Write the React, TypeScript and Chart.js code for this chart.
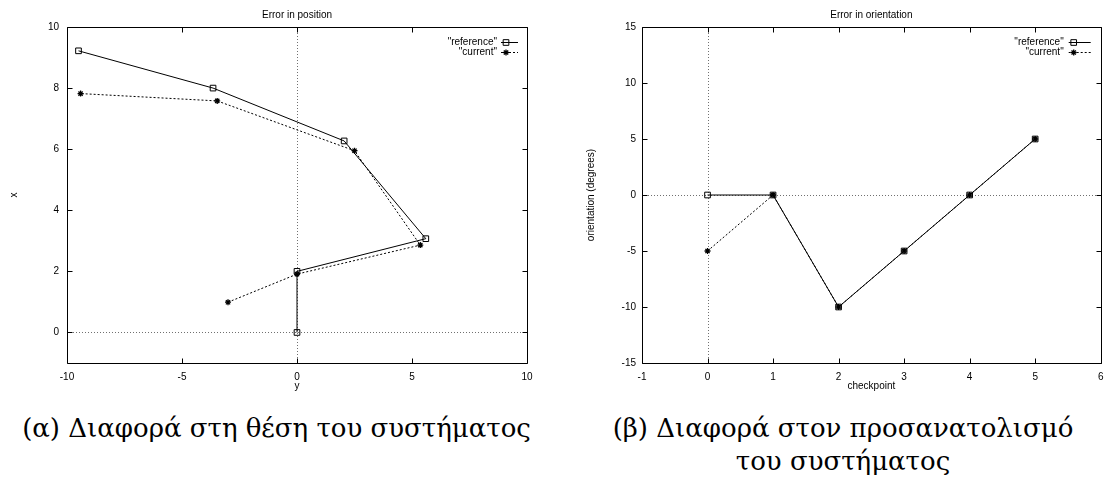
import React, { useEffect, useRef } from "react";
import { Chart, registerables } from "chart.js";

Chart.register(...registerables);

// ---------- data ----------
const seriesLabels = ['"reference"', '"current"'];

const positionTitle = "Error in position";
const positionXTitle = "y";
const positionYTitle = "x";
// horizontal axis = y, vertical axis = x
const refY = [0, 0, 5.6, 2.05, -3.65, -9.5];
const refX = [0, 2, 3.07, 6.27, 8.0, 9.22];
const curY = [-3.0, 0, 5.36, 2.5, -3.47, -9.41];
const curX = [0.99, 1.91, 2.86, 5.95, 7.58, 7.82];
const posXTicks = [-10, -5, 0, 5, 10];
const posYTicks = [0, 2, 4, 6, 8, 10];

const orientationTitle = "Error in orientation";
const orientationXTitle = "checkpoint";
const orientationYTitle = "orientation (degrees)";
const checkpoints = [0, 1, 2, 3, 4, 5];
const refOrientation = [0, 0, -10, -5, 0, 5];
const curOrientation = [-5, 0, -10, -5, 0, 5];
const oriXTicks = [-1, 0, 1, 2, 3, 4, 5, 6];
const oriYTicks = [-15, -10, -5, 0, 5, 10, 15];

const captionA = "(α) Διαφορά στη θέση του συστήματος";
const captionB1 = "(β) Διαφορά στον προσανατολισμό";
const captionB2 = "του συστήματος";

// ---------- helpers ----------
const FONT = "'Liberation Sans', Arial, Helvetica, sans-serif";

function drawMarker(ctx: CanvasRenderingContext2D, style: string, x: number, y: number, r: number) {
  ctx.save();
  ctx.setLineDash([]);
  ctx.strokeStyle = "#000";
  ctx.lineWidth = style === "rect" ? 1 : 1.3;
  ctx.beginPath();
  if (style === "rect") {
    const s = Math.SQRT1_2 * r;
    ctx.rect(x - s, y - s, 2 * s, 2 * s);
  } else {
    const d = r * Math.SQRT1_2;
    ctx.moveTo(x - r, y);
    ctx.lineTo(x + r, y);
    ctx.moveTo(x, y - r);
    ctx.lineTo(x, y + r);
    ctx.moveTo(x - d, y - d);
    ctx.lineTo(x + d, y + d);
    ctx.moveTo(x - d, y + d);
    ctx.lineTo(x + d, y - d);
  }
  ctx.stroke();
  ctx.restore();
}

const framePlugin = {
  id: "gnuframe",
  beforeDatasetsDraw(chart: any) {
    const { ctx, chartArea: a, scales } = chart;
    const x0 = Math.round(scales.x.getPixelForValue(0)) + 0.5;
    const y0 = Math.round(scales.y.getPixelForValue(0)) + 0.5;
    ctx.save();
    ctx.strokeStyle = "#707070";
    ctx.lineWidth = 1;
    ctx.setLineDash([1, 2]);
    ctx.beginPath();
    ctx.moveTo(x0, a.top);
    ctx.lineTo(x0, a.bottom);
    ctx.moveTo(a.left, y0);
    ctx.lineTo(a.right, y0);
    ctx.stroke();
    ctx.restore();
  },
  afterDatasetsDraw(chart: any, _args: any, opts: any) {
    const { ctx, chartArea: a, scales } = chart;
    const L = Math.round(a.left) + 0.5;
    const R = Math.round(a.right) + 0.5;
    const T = Math.round(a.top) + 0.5;
    const B = Math.round(a.bottom) + 0.5;
    ctx.save();
    ctx.strokeStyle = "#000";
    ctx.lineWidth = 1;
    ctx.setLineDash([]);
    ctx.beginPath();
    ctx.rect(L, T, R - L, B - T);
    const tl = 5;
    for (const t of scales.x.ticks) {
      const px = Math.round(scales.x.getPixelForValue(t.value)) + 0.5;
      ctx.moveTo(px, T);
      ctx.lineTo(px, T + tl);
      ctx.moveTo(px, B);
      ctx.lineTo(px, B - tl);
    }
    for (const t of scales.y.ticks) {
      const py = Math.round(scales.y.getPixelForValue(t.value)) + 0.5;
      ctx.moveTo(L, py);
      ctx.lineTo(L + tl, py);
      ctx.moveTo(R, py);
      ctx.lineTo(R - tl, py);
    }
    ctx.stroke();

    // legend (gnuplot key, inside top right)
    ctx.font = `10px ${FONT}`;
    ctx.fillStyle = "#000";
    ctx.textAlign = "right";
    ctx.textBaseline = "middle";
    chart.data.datasets.forEach((ds: any, i: number) => {
      const y = Math.round(a.top + opts.rowTop + i * 10) + 0.5;
      ctx.fillText(ds.label, a.right - opts.textGap, y);
      ctx.save();
      ctx.setLineDash(ds.borderDash || []);
      ctx.lineWidth = 1;
      ctx.strokeStyle = "#000";
      ctx.beginPath();
      ctx.moveTo(a.right - opts.s0, y);
      ctx.lineTo(a.right - opts.s1, y);
      ctx.stroke();
      ctx.restore();
      drawMarker(ctx, ds.pointStyle, a.right - opts.m, y, ds.pointRadius);
    });
    ctx.restore();
  },
};

function makeDatasets(ref: { x: number; y: number }[], cur: { x: number; y: number }[]) {
  return [
    {
      label: seriesLabels[0],
      data: ref,
      showLine: true,
      borderColor: "#000",
      borderWidth: 1,
      borderDash: [],
      pointStyle: "rect",
      pointRadius: 4,
      pointBorderWidth: 1,
      pointBorderColor: "#000",
      pointBackgroundColor: "rgba(255,255,255,0)",
      order: 1,
    },
    {
      label: seriesLabels[1],
      data: cur,
      showLine: true,
      borderColor: "#000",
      borderWidth: 1,
      borderDash: [2, 2],
      pointStyle: "star",
      pointRadius: 3,
      pointBorderWidth: 1.3,
      pointBorderColor: "#000",
      pointBackgroundColor: "#000",
      order: 0,
    },
  ];
}

function makeConfig(p: any): any {
  return {
    type: "scatter",
    data: { datasets: p.datasets },
    plugins: [framePlugin],
    options: {
      animation: false,
      responsive: false,
      devicePixelRatio: 1,
      events: [],
      layout: { padding: { left: 0, right: p.padRight, top: 0, bottom: 0 } },
      elements: { line: { tension: 0 } },
      plugins: {
        legend: { display: false },
        tooltip: { enabled: false },
        title: {
          display: true,
          text: p.title,
          fullSize: false,
          color: "#000",
          font: { family: FONT, size: 10, weight: "normal" },
          padding: { top: 9, bottom: 6 },
        },
        gnuframe: p.legend,
      },
      scales: {
        x: {
          type: "linear",
          min: p.xMin,
          max: p.xMax,
          grid: { display: false, drawTicks: false },
          border: { display: false },
          ticks: {
            color: "#000",
            font: { family: FONT, size: 10 },
            padding: 8,
            autoSkip: false,
            maxRotation: 0,
            callback: (v: number) => String(v),
          },
          afterBuildTicks: (s: any) => {
            s.ticks = p.xTicks.map((v: number) => ({ value: v }));
          },
          afterFit: (s: any) => {
            s.height = 32;
            s.paddingLeft = 0;
            s.paddingRight = 0;
          },
          title: {
            display: true,
            text: p.xTitle,
            color: "#000",
            font: { family: FONT, size: 10 },
            padding: { top: 0, bottom: 3 },
          },
        },
        y: {
          type: "linear",
          min: p.yMin,
          max: p.yMax,
          grid: { display: false, drawTicks: false },
          border: { display: false },
          ticks: {
            color: "#000",
            font: { family: FONT, size: 10 },
            padding: p.yTickPad,
            autoSkip: false,
            callback: (v: number) => String(v),
          },
          afterBuildTicks: (s: any) => {
            s.ticks = p.yTicks.map((v: number) => ({ value: v }));
          },
          afterFit: (s: any) => {
            s.width = p.yWidth;
            s.paddingTop = 0;
            s.paddingBottom = 0;
          },
          title: {
            display: true,
            text: p.yTitle,
            color: "#000",
            font: { family: FONT, size: 10 },
            padding: { top: p.yTitlePad, bottom: 0 },
          },
        },
      },
    },
  };
}

function ChartCanvas({ config, width, height }: { config: () => any; width: number; height: number }) {
  const ref = useRef<HTMLCanvasElement | null>(null);
  useEffect(() => {
    if (!ref.current) return;
    const chart = new Chart(ref.current, config());
    return () => chart.destroy();
  }, []);
  return <canvas ref={ref} width={width} height={height} style={{ display: "block", width, height }} />;
}

export default function App() {
  const posConfig = () =>
    makeConfig({
      datasets: makeDatasets(
        refY.map((v, i) => ({ x: v, y: refX[i] })),
        curY.map((v, i) => ({ x: v, y: curX[i] }))
      ),
      title: positionTitle,
      xTitle: positionXTitle,
      yTitle: positionYTitle,
      xMin: -10,
      xMax: 10,
      yMin: -1,
      yMax: 10,
      xTicks: posXTicks,
      yTicks: posYTicks,
      padRight: 26,
      yWidth: 67,
      yTickPad: 8,
      yTitlePad: 8,
      legend: { rowTop: 15, textGap: 30, s0: 26, s1: 9, m: 21 },
    });
  const oriConfig = () =>
    makeConfig({
      datasets: makeDatasets(
        checkpoints.map((c, i) => ({ x: c, y: refOrientation[i] })),
        checkpoints.map((c, i) => ({ x: c, y: curOrientation[i] }))
      ),
      title: orientationTitle,
      xTitle: orientationXTitle,
      yTitle: orientationYTitle,
      xMin: -1,
      xMax: 6,
      yMin: -15,
      yMax: 15,
      xTicks: oriXTicks,
      yTicks: oriYTicks,
      padRight: 2,
      yWidth: 89,
      yTickPad: 6,
      yTitlePad: 32,
      legend: { rowTop: 15, textGap: 37, s0: 32, s1: 10, m: 27 },
    });

  const captionStyle: React.CSSProperties = {
    position: "absolute",
    top: 412,
    textAlign: "center",
    fontFamily: "'DejaVu Serif', serif",
    fontSize: 26,
    lineHeight: "33px",
    color: "#000",
    whiteSpace: "nowrap",
  };

  return (
    <div style={{ position: "absolute", left: 0, top: 0, width: 1106, height: 485, background: "#fff", overflow: "hidden" }}>
      <div style={{ position: "absolute", left: 0, top: 0 }}>
        <ChartCanvas config={posConfig} width={553} height={395} />
      </div>
      <div style={{ position: "absolute", left: 553, top: 0 }}>
        <ChartCanvas config={oriConfig} width={553} height={395} />
      </div>
      <div style={{ ...captionStyle, left: 0, width: 553 }}>{captionA}</div>
      <div style={{ ...captionStyle, left: 543, width: 600 }}>
        {captionB1}
        <br />
        {captionB2}
      </div>
    </div>
  );
}
